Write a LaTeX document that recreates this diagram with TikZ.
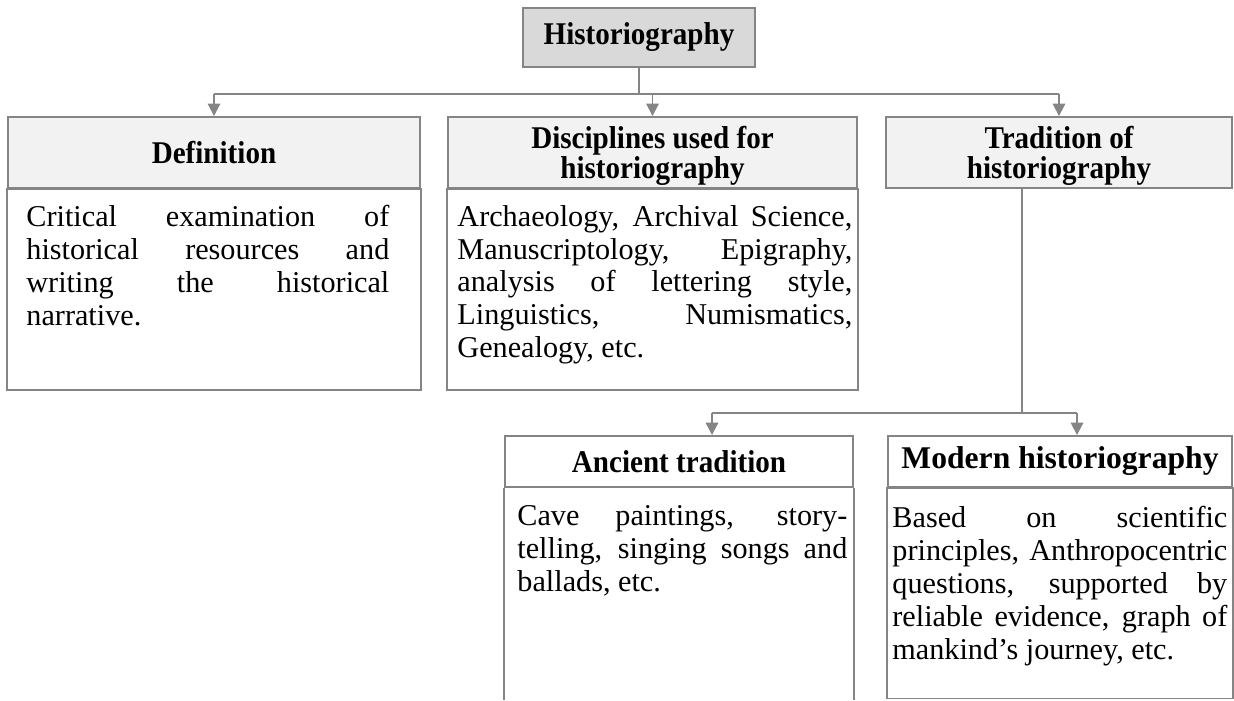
\documentclass[tikz,border=0pt]{standalone}
\usepackage{fontspec}
\setmainfont{Liberation Serif}
\newfontfamily\headserif[FakeStretch=0.92]{Liberation Serif}
\usetikzlibrary{arrows.meta,calc}
\definecolor{linegray}{HTML}{858585}
\definecolor{headfill}{HTML}{F2F2F2}
\definecolor{topfill}{HTML}{D9D9D9}
\tolerance=10000
\hyphenpenalty=10000
\tikzset{
  box/.style={draw=linegray, line width=1.1pt, align=center, inner sep=0pt,
    font=\headserif\fontsize{18}{17}\selectfont\bfseries},
  head/.style={box, fill=headfill, minimum height=1.42cm},
  subhead/.style={box, minimum height=1.02cm},
  frame/.style={draw=linegray, line width=1.1pt},
  bodytext/.style={anchor=north west, inner sep=0pt, align=justify,
    font=\fontsize{17.2}{18.7}\selectfont},
  conn/.style={draw=linegray, line width=1.1pt},
  arr/.style={conn, -{Triangle[width=7pt,length=7pt]}},
}
\begin{document}
\begin{tikzpicture}[x=0.02cm, y=-0.02cm]
  \useasboundingbox (0,0) rectangle (1234,700);

  % headings
  \node[box, fill=topfill, minimum width=4.64cm, minimum height=1.18cm] (hist) at (639,37.5) {Historiography};
  \node[head, minimum width=8.24cm] (defh) at (214,152.5) {Definition};
  \node[head, minimum width=8.18cm, text depth=0pt] (disch) at (652.5,152.5) {Disciplines used for\\historiography};
  \node[head, minimum width=6.92cm, text depth=0pt] (tradh) at (1059,152.5) {Tradition of\\historiography};
  \node[subhead, minimum width=6.96cm] (anch) at (679,461.5) {Ancient tradition};
  \node[subhead, minimum width=6.88cm, font=\fontsize{18}{17}\selectfont\bfseries] (modh) at (1060,461.5) {Modern historiography};

  % frames below the headings
  \draw[frame] (defh.south west) rectangle (defh.east |- 0,390);
  \draw[frame] (disch.south west) rectangle (disch.east |- 0,390);
  \draw[frame] (anch.south west) -- (anch.west |- 0,700);
  \draw[frame] (anch.south east) -- (anch.east |- 0,700);
  \draw[frame] (modh.south west) rectangle (modh.east |- 0,698.5);

  % texts
  \node[bodytext, text width=7.26cm] (deft) at ($(defh.south west)+(19,16)$)
    {Critical examination of historical resources and writing the historical narrative.};
  \node[bodytext, text width=7.9cm] (disct) at ($(disch.south west)+(10,16)$)
    {Archaeology, Archival Science, Manuscriptology, Epigraphy, analysis of lettering style, Linguistics, Numismatics, Genealogy, etc.};
  \node[bodytext, text width=6.6cm] (anct) at ($(anch.south west)+(13,17)$)
    {Cave paintings, story-telling, singing songs and ballads, etc.};
  \node[bodytext, text width=6.7cm] (modt) at ($(modh.south west)+(5,18)$)
    {Based on scientific principles, Anthropocentric questions, supported by reliable evidence, graph of mankind’s journey, etc.};

  % connectors
  \coordinate (j1) at (hist.south |- 0,94);
  \draw[conn] (hist.south) -- (j1);
  \draw[conn] (defh.north |- j1) -- (tradh.north |- j1);
  \foreach \n in {defh,disch,tradh}
    \draw[arr] (\n.north |- j1) -- (\n.north);

  \coordinate (j2) at (1022,413);
  \coordinate (a2) at (712,413);
  \coordinate (m2) at (1077,413);
  \draw[conn] (j2 |- tradh.south) -- (j2);
  \draw[conn] (a2) -- (m2);
  \draw[arr] (a2) -- (a2 |- anch.north);
  \draw[arr] (m2) -- (m2 |- modh.north);
\end{tikzpicture}
\end{document}
